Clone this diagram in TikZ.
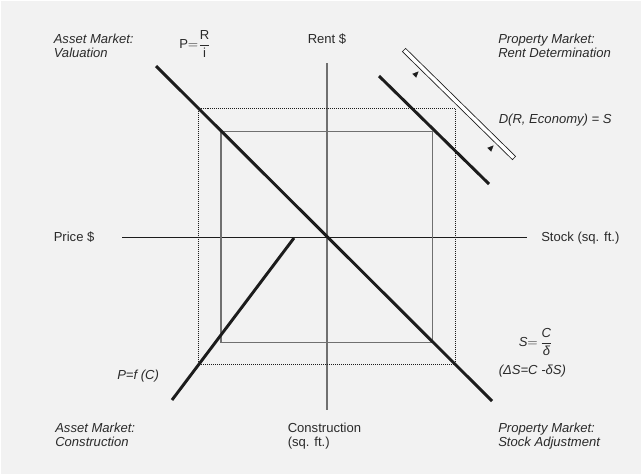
\documentclass[tikz,border=0pt]{standalone}
\usepackage{amsmath}
\usepackage{fontspec}
\setmainfont{Liberation Sans}
\usetikzlibrary{arrows.meta, positioning, calc}
\definecolor{cbg}{HTML}{F2F2F2}
\definecolor{ctext}{HTML}{2A2A2A}
\definecolor{cline}{HTML}{1C1C1C}
\definecolor{cgray}{HTML}{707070}

\begin{document}
\begin{tikzpicture}[x=0.75pt, y=-0.75pt,
  lbl/.style={font=\fontsize{9.8}{10.5}\selectfont, text=ctext, anchor=base west, inner sep=0pt},
  ilbl/.style={lbl, font=\fontsize{9.8}{10.5}\selectfont\itshape},
  curve/.style={cline, line width=2.2pt}]
  \useasboundingbox (0,0) rectangle (642,475);
  \fill[cbg] (1,1) rectangle (641,474);

  % Axes
  \coordinate (rentEnd) at (327,63);
  \coordinate (consEnd) at (327,410);
  \coordinate (priceEnd) at (122,237);
  \coordinate (stockEnd) at (527,237);
  \draw[cgray, line width=1.1pt] (rentEnd) -- (consEnd);
  \draw[cline, line width=0.6pt] (priceEnd) -- (stockEnd);

  % Equilibrium boxes
  \draw[cline, line width=0.6pt, dash pattern=on 0.75pt off 0.75pt] (198.5,108.5) rectangle (455,364);
  \draw[cgray, line width=1.1pt] (221,131.5) rectangle (432.5,342.5);

  % Curves
  \coordinate (valTop) at (156,66);
  \coordinate (valBot) at (492,401);
  \coordinate (conLow) at (172,400);
  \coordinate (conUp) at (294,238);
  \coordinate (demTop) at (379,76);
  \coordinate (demBot) at (489,184);
  \draw[curve] (valTop) -- (valBot);
  \draw[curve] (conLow) -- (conUp);
  \draw[curve] (demTop) -- (demBot);

  % Shifted demand
  \coordinate (sa) at (404,50);
  \coordinate (sb) at (514,158);
  \draw[cline, line width=0.5pt, fill=white]
    ($(sa)!1.7pt!90:(sb)$) -- ($(sb)!1.7pt!-90:(sa)$) -- ($(sb)!1.7pt!90:(sa)$) -- ($(sa)!1.7pt!-90:(sb)$) -- cycle;
  \coordinate (arA) at (414.9,75.1);
  \coordinate (arB) at (489.9,149.1);
  \draw[cline, line width=0.1pt, -{Triangle[length=4.5pt, width=4pt]}] (arA) -- ++(3.6,-3.6);
  \draw[cline, line width=0.1pt, -{Triangle[length=4.5pt, width=4pt]}] (arB) -- ++(3.6,-3.6);

  % Quadrant titles
  \node[ilbl] (nwA) at (53.5,43) {Asset Market:};
  \node[ilbl] (nwB) at (53.5,57) {Valuation};
  \node[ilbl] (neA) at (498,43) {Property Market:};
  \node[ilbl] (neB) at (498,57) {Rent Determination};
  \node[ilbl] (swA) at (55,432) {Asset Market:};
  \node[ilbl] (swB) at (55,446.5) {Construction};
  \node[ilbl] (seA) at (498,432) {Property Market:};
  \node[ilbl] (seB) at (498,446.5) {Stock Adjustment};

  % Axis labels
  \node[lbl, anchor=base] (rent) at (327,43) {Rent \$};
  \node[lbl] (price) at (53.5,241) {Price \$};
  \node[lbl] (stock) at (541,241) {Stock (sq. ft.)};
  \node[lbl] (consA) at (287.5,432) {Construction};
  \node[lbl] (consB) at (287.5,446.5) {(sq. ft.)};

  % Relations
  \node[lbl, anchor=west] (valEq) at (179,44) {$\mathrm{P}{=}\dfrac{\mathrm{R}}{\mathrm{i}}$};
  \node[ilbl] (demEq) at (498.5,123.5) {D(R, Economy) = S};
  \node[ilbl] (conEq) at (117,379) {P=f (C)};
  \node[lbl, anchor=west] (stkEq) at (518.5,342) {$\textit{S}{=}\,\dfrac{\textit{C}}{\textit{δ}}$};
  \node[ilbl] (flowEq) at (498.5,374.5) {(ΔS=C -δS)};
\end{tikzpicture}
\end{document}
